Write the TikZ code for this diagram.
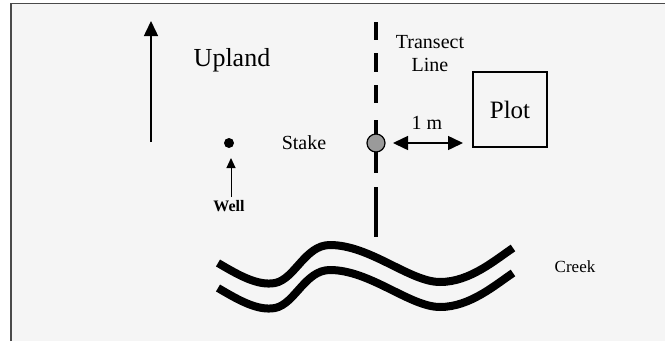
\documentclass[tikz,border=0pt]{standalone}
\usepackage{fontspec}
\setmainfont{Liberation Serif}
\usetikzlibrary{arrows.meta}
\definecolor{paper}{HTML}{F5F5F5}
\definecolor{framec}{HTML}{4A4A4A}
\definecolor{stakegray}{HTML}{9A9A9A}
\tikzset{
  lbl/.style={inner sep=0pt, font=\fontsize{20}{22}\selectfont},
  bigarrow/.style={line width=1.5pt, -{Triangle[length=15pt,width=14pt]}},
  dashseg/.style={line width=4pt},
  creekline/.style={line width=8pt, line cap=butt},
}
\begin{document}
\begin{tikzpicture}[x=1pt,y=-1pt]
\useasboundingbox (0,0) rectangle (665,341);
\fill[white] (0,0) rectangle (665,341);
\fill[paper] (11,3.5) rectangle (665,341);
\draw[framec, line width=1.5pt] (11,341) -- (11,3.5) -- (665,3.5);

% Upland arrow
\coordinate (upb) at (151,142);
\coordinate (upt) at (151,21);
\draw[bigarrow] (upb) -- (upt);
\node[lbl, font=\fontsize{26}{28}\selectfont] (upland) at (232,60) {Upland};

% transect line
\coordinate (t1a) at (376,22);  \coordinate (t1b) at (376,40);
\coordinate (t2a) at (376,53);  \coordinate (t2b) at (376,72);
\coordinate (t3a) at (376,85);  \coordinate (t3b) at (376,103);
\coordinate (t4a) at (376,120); \coordinate (t4b) at (376,173);
\coordinate (t5a) at (376,187); \coordinate (t5b) at (376,237);
\foreach \s in {1,...,5} \draw[dashseg] (t\s a) -- (t\s b);
\node[lbl] (transect) at (430,42) {Transect};
\node[lbl] (line) at (430,65) {Line};

% stake
\node[circle, draw=black, line width=1.2pt, fill=stakegray, minimum size=18pt, inner sep=0pt] (stake) at (376,143) {};
\node[lbl] (stakelbl) at (304,143) {Stake};

% plot
\node[draw=black, line width=1.2pt, minimum width=74pt, minimum height=75pt, inner sep=0pt,
      font=\fontsize{25}{27}\selectfont] (plot) at (510,109.5) {Plot};
\coordinate (ma) at (393,143);
\coordinate (mb) at (463,143);
\draw[line width=1.5pt, {Triangle[length=15pt,width=14pt]}-{Triangle[length=15pt,width=14pt]}] (ma) -- (mb);
\node[lbl] (onem) at (427,123) {1 m};

% well
\node[circle, fill=black, minimum size=10pt, inner sep=0pt] (well) at (229,143) {};
\coordinate (wb) at (231,197);
\coordinate (wt) at (231,158);
\draw[line width=1pt, -{Triangle[length=10pt,width=9pt]}] (wb) -- (wt);
\node[lbl, font=\fontsize{16}{18}\selectfont\bfseries] (welllbl) at (229,206) {Well};

% creek
\foreach \dy in {0,25} {
\draw[creekline] (218,263+\dy) .. controls (240,276+\dy) and (258,286+\dy) .. (275,283+\dy)
  .. controls (295,279+\dy) and (305,245+\dy) .. (330,245+\dy)
  .. controls (370,245+\dy) and (410,282+\dy) .. (440,282+\dy)
  .. controls (470,282+\dy) and (495,260+\dy) .. (513,248+\dy);
}
\node[lbl, font=\fontsize{17}{19}\selectfont] (creek) at (575,267) {Creek};
\end{tikzpicture}
\end{document}
